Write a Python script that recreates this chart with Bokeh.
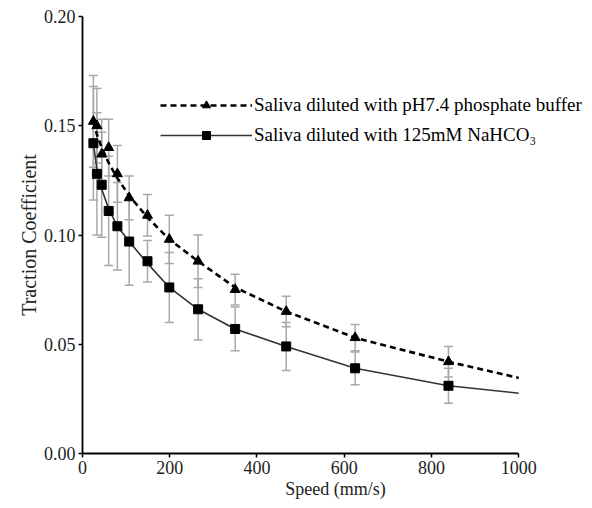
from bokeh.plotting import figure
from bokeh.models import ColumnDataSource, Whisker, TeeHead, Legend, LegendItem, NumeralTickFormatter, FixedTicker, Range1d
from bokeh.embed import file_html
from bokeh.resources import INLINE

# ---- data ----
speed = [25, 33, 44, 60, 80, 107, 149, 199, 265, 350, 467, 625, 839]

phosphate = [0.152, 0.150, 0.137, 0.140, 0.128, 0.117, 0.109, 0.098, 0.088, 0.075, 0.065, 0.053, 0.042]
phosphate_err = [0.021, 0.017, 0.016, 0.013, 0.013, 0.010, 0.0095, 0.011, 0.012, 0.007, 0.007, 0.006, 0.007]

nahco3 = [0.142, 0.128, 0.123, 0.111, 0.104, 0.097, 0.088, 0.076, 0.066, 0.057, 0.049, 0.039, 0.031]
nahco3_err = [0.026, 0.028, 0.024, 0.025, 0.020, 0.020, 0.0095, 0.016, 0.014, 0.010, 0.011, 0.0075, 0.008]

# fitted trend curves
curve_speed = [25, 33, 44, 60, 80, 107, 149, 199, 265, 350, 467, 625, 839, 1000]
curve_phosphate = [0.152, 0.146, 0.140, 0.133, 0.126, 0.118, 0.108, 0.098, 0.088, 0.076, 0.065, 0.053, 0.042, 0.0346]
curve_nahco3 = [0.142, 0.130, 0.121, 0.112, 0.104, 0.097, 0.087, 0.076, 0.066, 0.057, 0.049, 0.039, 0.031, 0.0276]

x_ticks = [0, 200, 400, 600, 800, 1000]
y_ticks = [0.00, 0.05, 0.10, 0.15, 0.20]

label_phosphate = "Saliva diluted with pH7.4 phosphate buffer"
label_nahco3 = "Saliva diluted with 125mM NaHCO\u2083"

FONT = "Liberation Serif"

# frame: left 82, right 588 (axis drawn only to 1000 -> 518), top 16, bottom 453
p = figure(width=592, height=508, output_backend="svg", toolbar_location=None,
           x_range=Range1d(0, 1160), y_range=Range1d(0, 0.20),
           min_border_left=82, min_border_right=4, min_border_top=16, min_border_bottom=55)
p.outline_line_color = None
p.xgrid.visible = False
p.ygrid.visible = False
p.background_fill_color = "white"

src_p = ColumnDataSource(dict(x=speed, y=phosphate,
                              lo=[v - e for v, e in zip(phosphate, phosphate_err)],
                              hi=[v + e for v, e in zip(phosphate, phosphate_err)]))
src_n = ColumnDataSource(dict(x=speed, y=nahco3,
                              lo=[v - e for v, e in zip(nahco3, nahco3_err)],
                              hi=[v + e for v, e in zip(nahco3, nahco3_err)]))

ERR = "#a8a8a8"
for src in (src_p, src_n):
    w = Whisker(source=src, base="x", upper="hi", lower="lo", dimension="height",
                line_color=ERR, line_width=1.5,
                upper_head=TeeHead(size=9, line_color=ERR, line_width=1.5),
                lower_head=TeeHead(size=9, line_color=ERR, line_width=1.5))
    p.add_layout(w)

lp = p.line(curve_speed, curve_phosphate, line_color="black", line_width=2.6, line_dash="6 4")
sp = p.scatter("x", "y", source=src_p, marker="triangle", size=10, fill_color="black", line_color="black")
ln = p.line(curve_speed, curve_nahco3, line_color="#333333", line_width=1.6)
sn = p.scatter("x", "y", source=src_n, marker="square", size=9, fill_color="black", line_color="black")

legend = Legend(items=[LegendItem(label=label_phosphate, renderers=[lp, sp]),
                       LegendItem(label=label_nahco3, renderers=[ln, sn])],
                location=(78, 307), glyph_width=92, glyph_height=20, label_height=20,
                spacing=8, padding=0, margin=0, label_standoff=2,
                border_line_color=None, background_fill_alpha=0,
                label_text_font=FONT, label_text_font_size="19px", label_text_color="black")
p.add_layout(legend, "center")

for ax in (p.xaxis[0], p.yaxis[0]):
    ax.axis_line_width = 1.8
    ax.axis_line_color = "black"
    ax.major_tick_line_color = "black"
    ax.major_tick_line_width = 1.5
    ax.major_tick_out = 4
    ax.major_tick_in = 0
    ax.minor_tick_line_color = None
    ax.major_label_text_font = FONT
    ax.major_label_text_font_size = "18px"
    ax.major_label_text_color = "#222222"
    ax.axis_label_text_font = FONT
    ax.axis_label_text_font_style = "normal"
    ax.axis_label_text_color = "#222222"

p.xaxis.bounds = (0, 1000)
p.xaxis.ticker = FixedTicker(ticks=x_ticks)
p.yaxis.ticker = FixedTicker(ticks=y_ticks)
p.yaxis.formatter = NumeralTickFormatter(format="0.00")
p.xaxis.axis_label = "Speed (mm/s)"
p.yaxis.axis_label = "Traction Coefficient"
p.xaxis.axis_label_text_font_size = "18px"
p.yaxis.axis_label_text_font_size = "20px"
p.xaxis.major_label_standoff = 3
p.xaxis.axis_label_standoff = 2
p.yaxis.major_label_standoff = 3
p.yaxis.axis_label_standoff = 1

open("out.html", "w").write(file_html(p, INLINE))
